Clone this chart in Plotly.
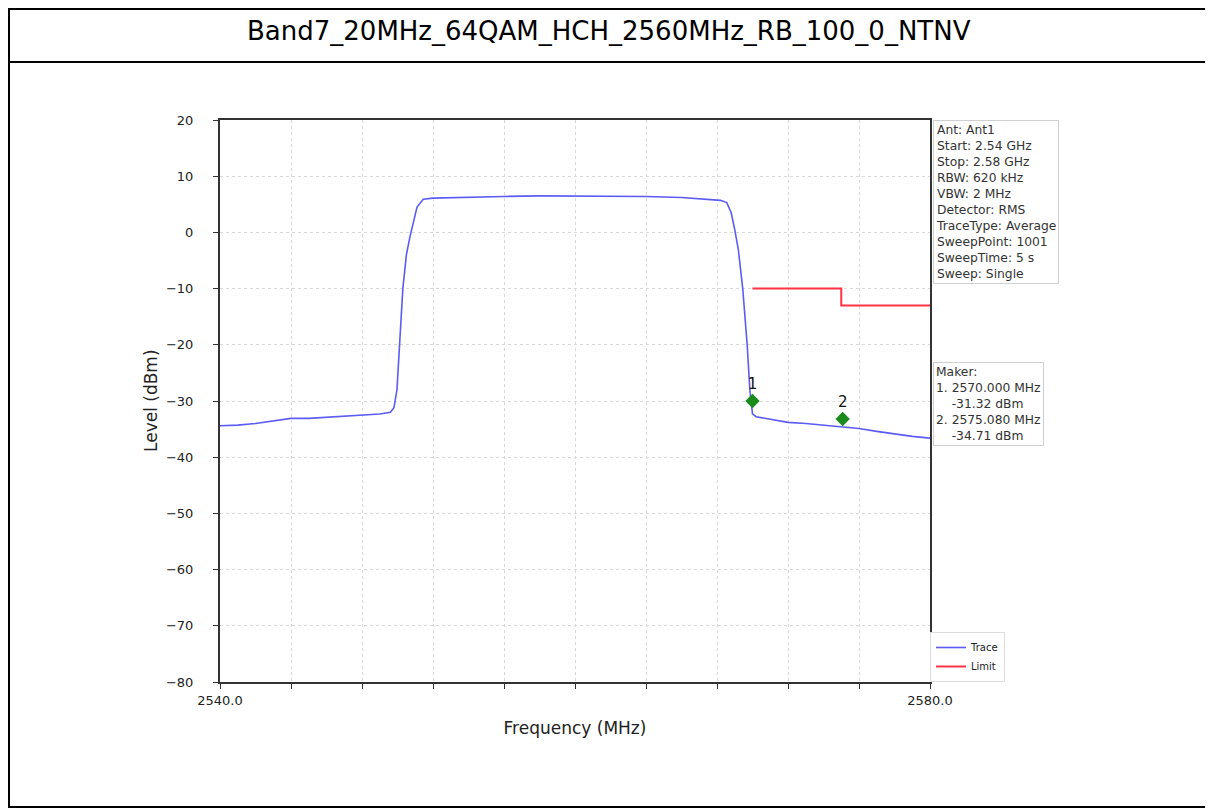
import plotly.graph_objs as go

# trace (MHz, dBm)
freq = [2540.0, 2541.0, 2542.0, 2543.0, 2544.0, 2545.0, 2546.0, 2547.0, 2548.0, 2549.0,
        2549.6, 2549.8, 2549.97, 2550.15, 2550.3, 2550.5, 2550.7, 2551.1, 2551.45, 2552.0,
        2554.0, 2556.0, 2558.0, 2560.0, 2562.0, 2564.0, 2566.0, 2567.5, 2568.2, 2568.55,
        2568.8, 2569.0, 2569.2, 2569.45, 2569.7, 2569.85, 2570.0, 2570.2, 2571.0, 2572.0,
        2573.0, 2574.0, 2575.0, 2576.0, 2577.0, 2578.0, 2579.0, 2580.0]
level = [-34.4, -34.3, -34.0, -33.6, -33.1, -33.1, -32.9, -32.8, -32.6, -32.3,
         -32.0, -31.2, -28.0, -19.0, -10.0, -4.0, -0.8, 4.5, 5.9, 6.1,
         6.3, 6.4, 6.5, 6.5, 6.4, 6.4, 6.2, 5.9, 5.7, 5.3,
         3.5, 0.5, -3.0, -10.0, -20.0, -28.0, -32.3, -32.8, -33.3, -33.8,
         -34.0, -34.3, -34.6, -34.9, -35.4, -35.9, -36.3, -36.6]

limit_freq = [2570.0, 2575.0, 2575.0, 2580.0]
limit_level = [-10.0, -10.0, -13.0, -13.0]

marker_freq = [2570.0, 2575.08]
marker_level = [-30.0, -33.2]  # where the diamonds are drawn
marker_readout = [-31.32, -34.71]
marker_names = ["1", "2"]

info_lines = ["Ant: Ant1", "Start: 2.54 GHz", "Stop: 2.58 GHz", "RBW: 620 kHz", "VBW: 2 MHz",
              "Detector: RMS", "TraceType: Average", "SweepPoint: 1001", "SweepTime: 5 s",
              "Sweep: Single"]

xtick_vals = [2540, 2544, 2548, 2552, 2556, 2560, 2564, 2568, 2572, 2576, 2580]
xtick_text = ["2540.0", "", "", "", "", "", "", "", "", "", "2580.0"]

# the page body has an 8px margin, so the figure is shrunk and everything shifted by it
OFF = 8
W, H = 1213 - OFF, 809 - OFF
L, R, T, B = 220 - OFF, 930 - OFF, 120 - OFF, 682 - OFF  # plot area in figure pixels
FONT = "DejaVu Sans"


def px(x):
    return (x - L) / (R - L)


def py(y):
    return (B - y) / (B - T)


fig = go.Figure()
fig.add_trace(go.Scatter(x=freq, y=level, mode="lines", name="Trace",
                         line=dict(color="#5c5cf5", width=1.6)))
fig.add_trace(go.Scatter(x=limit_freq, y=limit_level, mode="lines", name="Limit",
                         line=dict(color="#ff3344", width=2)))
fig.add_trace(go.Scatter(x=marker_freq, y=marker_level, mode="markers+text",
                         text=marker_names, textposition="top center",
                         textfont=dict(size=15, color="#111111"),
                         marker=dict(symbol="diamond", size=11, color="#1a8a1a"),
                         showlegend=False))

marker_text = "Maker:<br>"
for i, f in enumerate(marker_freq):
    marker_text += "%d. %.3f MHz<br>&nbsp;&nbsp;&nbsp;&nbsp;%.2f dBm" % (i + 1, f, marker_readout[i])
    if i < len(marker_freq) - 1:
        marker_text += "<br>"

fig.update_layout(
    width=W, height=H,
    margin=dict(l=L, r=W - R, t=T, b=H - B),
    paper_bgcolor="white", plot_bgcolor="white",
    font=dict(family=FONT, color="#222222", size=12),
    xaxis=dict(range=[2540, 2580], tickvals=xtick_vals, ticktext=xtick_text,
               ticks="outside", ticklen=5, tickcolor="#333", showline=True, linecolor="#333",
               linewidth=2, mirror=True, showgrid=True, gridcolor="#d8d8d8",
               griddash="3px,3px", zeroline=False, tickfont=dict(size=13),
               title=dict(text="Frequency (MHz)", font=dict(size=17), standoff=16)),
    yaxis=dict(range=[-80, 20], dtick=10, ticks="outside", ticklen=5, tickcolor="#333",
               showline=True, linecolor="#333", linewidth=2, mirror=True, showgrid=True,
               gridcolor="#d8d8d8", griddash="3px,3px", zeroline=False,
               tickfont=dict(size=13), ticklabelstandoff=17),
    legend=dict(x=1, y=0, xanchor="left", yanchor="bottom", xref="paper",
                bordercolor="#dddddd", borderwidth=1, font=dict(size=10),
                itemwidth=30, tracegroupgap=0),
    showlegend=True,
)

fig.add_annotation(text="Level (dBm)", textangle=-90, xref="paper", yref="paper",
                   x=px(151 - OFF), y=0.5, xanchor="center", yanchor="middle",
                   showarrow=False, font=dict(size=17, color="#222222"))

# outer frame and title row
fig.add_shape(type="rect", xref="paper", yref="paper", x0=px(1), x1=px(W - 2),
              y0=py(H - 2), y1=py(1), line=dict(color="black", width=2))
fig.add_shape(type="line", xref="paper", yref="paper", x0=px(1), x1=px(W - 2),
              y0=py(62 - OFF), y1=py(62 - OFF), line=dict(color="black", width=2))
fig.add_annotation(text="Band7_20MHz_64QAM_HCH_2560MHz_RB_100_0_NTNV", xref="paper",
                   yref="paper", x=px(609 - OFF), y=py(31 - OFF), xanchor="center",
                   yanchor="middle", showarrow=False, font=dict(size=26, color="black"))

fig.add_annotation(text="<br>".join(info_lines), xref="paper", yref="paper", x=1, y=1,
                   xanchor="left", yanchor="top", xshift=3, align="left", showarrow=False,
                   bordercolor="#d0d0d0", borderwidth=1, borderpad=2,
                   font=dict(size=12.3, color="#333"))
fig.add_annotation(text=marker_text, xref="paper", yref="paper", x=1, y=py(362 - OFF),
                   xanchor="left", yanchor="top", xshift=3, align="left", showarrow=False,
                   bordercolor="#d0d0d0", borderwidth=1, borderpad=2,
                   font=dict(size=12.3, color="#333"))

fig.write_html("out.html")
